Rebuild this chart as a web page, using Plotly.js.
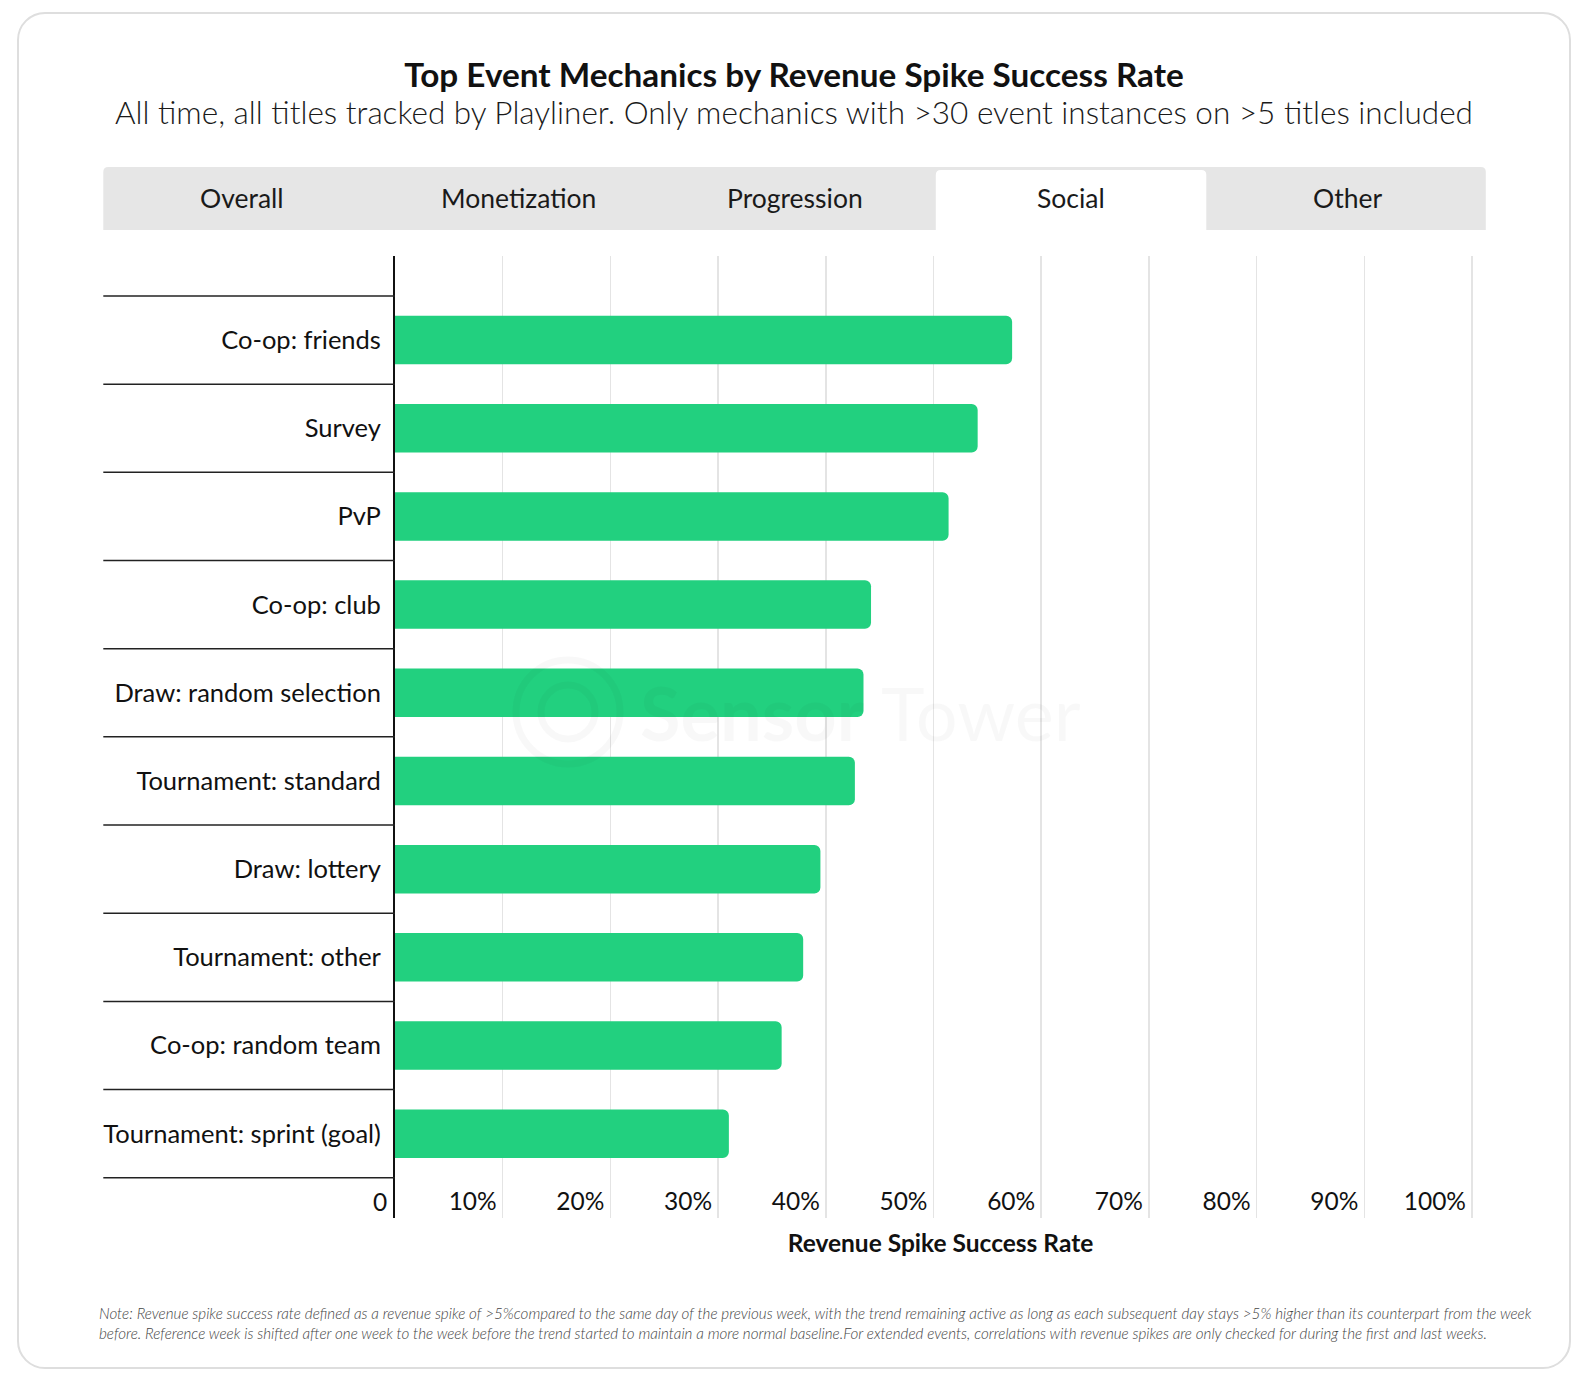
<!DOCTYPE html>
<html>
<head>
<meta charset="utf-8">
<script src="https://cdn.plot.ly/plotly-3.0.1.min.js"></script>
<style>
  html, body { margin: 0; padding: 0; background: #ffffff; }
  #wrap { position: relative; width: 1588px; height: 1380px; }
  #card { position: absolute; left: 17px; top: 12px; width: 1554px; height: 1357px;
          box-sizing: border-box; border: 2px solid #dedede; border-radius: 28px; background: #fff; }
  #chart { position: absolute; left: 0; top: 0; width: 1588px; height: 1380px; }
</style>
</head>
<body>
<div id="wrap">
  <div id="card"></div>
  <div id="chart"></div>
</div>
<script>
// ---- data ----
const categories = [
  "Co-op: friends",
  "Survey",
  "PvP",
  "Co-op: club",
  "Draw: random selection",
  "Tournament: standard",
  "Draw: lottery",
  "Tournament: other",
  "Co-op: random team",
  "Tournament: sprint (goal)"
];
const successRate = [57.3, 54.1, 51.4, 44.2, 43.5, 42.7, 39.5, 37.9, 35.9, 31.0];
const tickValues = [0, 10, 20, 30, 40, 50, 60, 70, 80, 90, 100];
const tickLabels = ["0", "10%", "20%", "30%", "40%", "50%", "60%", "70%", "80%", "90%", "100%"];
const tabs = ["Overall", "Monetization", "Progression", "Social", "Other"];
const activeTab = "Social";
const titleText = "Top Event Mechanics by Revenue Spike Success Rate";
const subtitleText = "All time, all titles tracked by Playliner. Only mechanics with >30 event instances on >5 titles included";
const xTitleText = "Revenue Spike Success Rate";
const noteLines = [
  "Note: Revenue spike success rate defined as a revenue spike of >5%compared to the same day of the previous week, with the trend remaining active as long as each subsequent day stays >5% higher than its counterpart from the week",
  "before. Reference week is shifted after one week to the week before the trend started to maintain a more normal baseline.For extended events, correlations with revenue spikes are only checked for during the first and last weeks."
];

// ---- layout geometry (pixels) ----
const W = 1588, H = 1380;
const PL = 395, PR = 1486, PT = 256, PB = 1218;
const X = px => (px - PL) / (PR - PL);
const Y = py => (PB - py) / (PB - PT);
const FONT = "'Source Sans Pro', Lato, 'Noto Sans', sans-serif";

function roundedTop(x0, y0, x1, y1, r) {
  const p = (x, y) => X(x) + ',' + Y(y);
  return 'M ' + p(x0, y1) + ' L ' + p(x0, y0 + r) + ' Q ' + p(x0, y0) + ' ' + p(x0 + r, y0) +
         ' L ' + p(x1 - r, y0) + ' Q ' + p(x1, y0) + ' ' + p(x1, y0 + r) + ' L ' + p(x1, y1) + ' Z';
}

const shapes = [];
const annotations = [];

// tabs
const tabL = 103.3, tabR = 1485.8, tabT = 167, tabB = 230;
shapes.push({type: 'path', xref: 'paper', yref: 'paper', path: roundedTop(tabL, tabT, tabR, tabB, 5),
             fillcolor: '#e6e6e6', line: {width: 0}, layer: 'below'});
const tabW = (tabR - tabL) / tabs.length;
tabs.forEach((t, i) => {
  const cx = tabL + tabW * (i + 0.5);
  if (t === activeTab) {
    shapes.push({type: 'path', xref: 'paper', yref: 'paper',
                 path: roundedTop(tabL + tabW * i + 3, tabT + 3, tabL + tabW * (i + 1) - 3, tabB, 5),
                 fillcolor: '#ffffff', line: {width: 0}, layer: 'below'});
  }
  annotations.push({xref: 'paper', yref: 'paper', x: X(cx), y: Y(198), text: t, showarrow: false,
                    xanchor: 'center', yanchor: 'middle', font: {family: FONT, size: 26.5, color: '#1a1a1a'}});
});

// category separator lines
for (let i = 0; i <= categories.length; i++) {
  shapes.push({type: 'line', xref: 'paper', yref: 'y', x0: X(103.3), x1: 0, y0: i - 0.5, y1: i - 0.5,
               line: {color: '#222222', width: 1.5}});
}

// subtitle
annotations.push({xref: 'paper', yref: 'paper', x: X(794), y: Y(112.5), text: subtitleText, showarrow: false,
                  xanchor: 'center', yanchor: 'middle', font: {family: FONT, size: 31.5, weight: 300, color: '#1a1a1a'}});

// zero tick label (Plotly hides inside labels that fall outside the plot area)
annotations.push({xref: 'x', yref: 'paper', x: tickValues[0], y: Y(1201), text: tickLabels[0], showarrow: false,
                  xanchor: 'right', yanchor: 'middle', xshift: -6,
                  font: {family: FONT, size: 24.5, color: '#111111'}});

// note
annotations.push({xref: 'paper', yref: 'paper', x: X(97), y: Y(1323), text: noteLines.join('<br>'), showarrow: false,
                  xanchor: 'left', yanchor: 'middle', align: 'left',
                  font: {family: FONT, size: 15.2, style: 'italic', weight: 300, color: '#444444'}});

// watermark
annotations.push({xref: 'paper', yref: 'paper', x: X(860), y: Y(712), text: '<b>Sensor</b> Tower', showarrow: false,
                  xanchor: 'center', yanchor: 'middle', font: {family: FONT, size: 74, color: 'rgba(0,0,0,0.028)'}});
shapes.push({type: 'circle', xref: 'paper', yref: 'paper', x0: X(516), x1: X(620), y0: Y(660), y1: Y(764),
             line: {color: 'rgba(0,0,0,0.028)', width: 7}, layer: 'above'});
shapes.push({type: 'circle', xref: 'paper', yref: 'paper', x0: X(541), x1: X(595), y0: Y(685), y1: Y(739),
             line: {color: 'rgba(0,0,0,0.028)', width: 7}, layer: 'above'});

const trace = {
  type: 'bar',
  orientation: 'h',
  x: successRate,
  y: categories,
  width: 0.55,
  marker: {color: '#22d07f', cornerradius: 6},
  hoverinfo: 'x+y'
};

const layout = {
  width: W, height: H,
  margin: {l: PL, r: W - PR, t: PT, b: H - PB, pad: 0},
  paper_bgcolor: 'rgba(0,0,0,0)',
  plot_bgcolor: 'rgba(0,0,0,0)',
  showlegend: false,
  font: {family: FONT, color: '#111111'},
  title: {text: '<b>' + titleText + '</b>', x: 794 / W, xanchor: 'center',
          xref: 'container', yref: 'container', y: 1 - 75 / H, yanchor: 'middle',
          font: {family: FONT, size: 33.3, color: '#111111'}},
  xaxis: {
    range: [0, 101.3], fixedrange: true,
    tickvals: tickValues.slice(1), ticktext: tickLabels.slice(1),
    ticklabelposition: 'inside left', ticklabelshift: -6, ticklabelstandoff: -3,
    showgrid: true, gridcolor: '#e4e4e4', gridwidth: 1.5,
    zeroline: false, showline: false, ticks: '',
    tickfont: {family: FONT, size: 24.5, color: '#111111'},
    title: {text: '<b>' + xTitleText + '</b>', standoff: 20, font: {family: FONT, size: 24.5, color: '#111111'}},
    automargin: false
  },
  yaxis: {
    type: 'category', categoryorder: 'array', categoryarray: categories,
    range: [9.956, -0.953], fixedrange: true,
    showgrid: false, zeroline: false,
    showline: true, linecolor: '#111111', linewidth: 2,
    ticks: '', ticklabelstandoff: 7,
    tickfont: {family: FONT, size: 25.5, color: '#111111'},
    automargin: false
  },
  shapes: shapes,
  annotations: annotations
};

Plotly.newPlot('chart', [trace], layout, {displayModeBar: false, staticPlot: true});
</script>
</body>
</html>
